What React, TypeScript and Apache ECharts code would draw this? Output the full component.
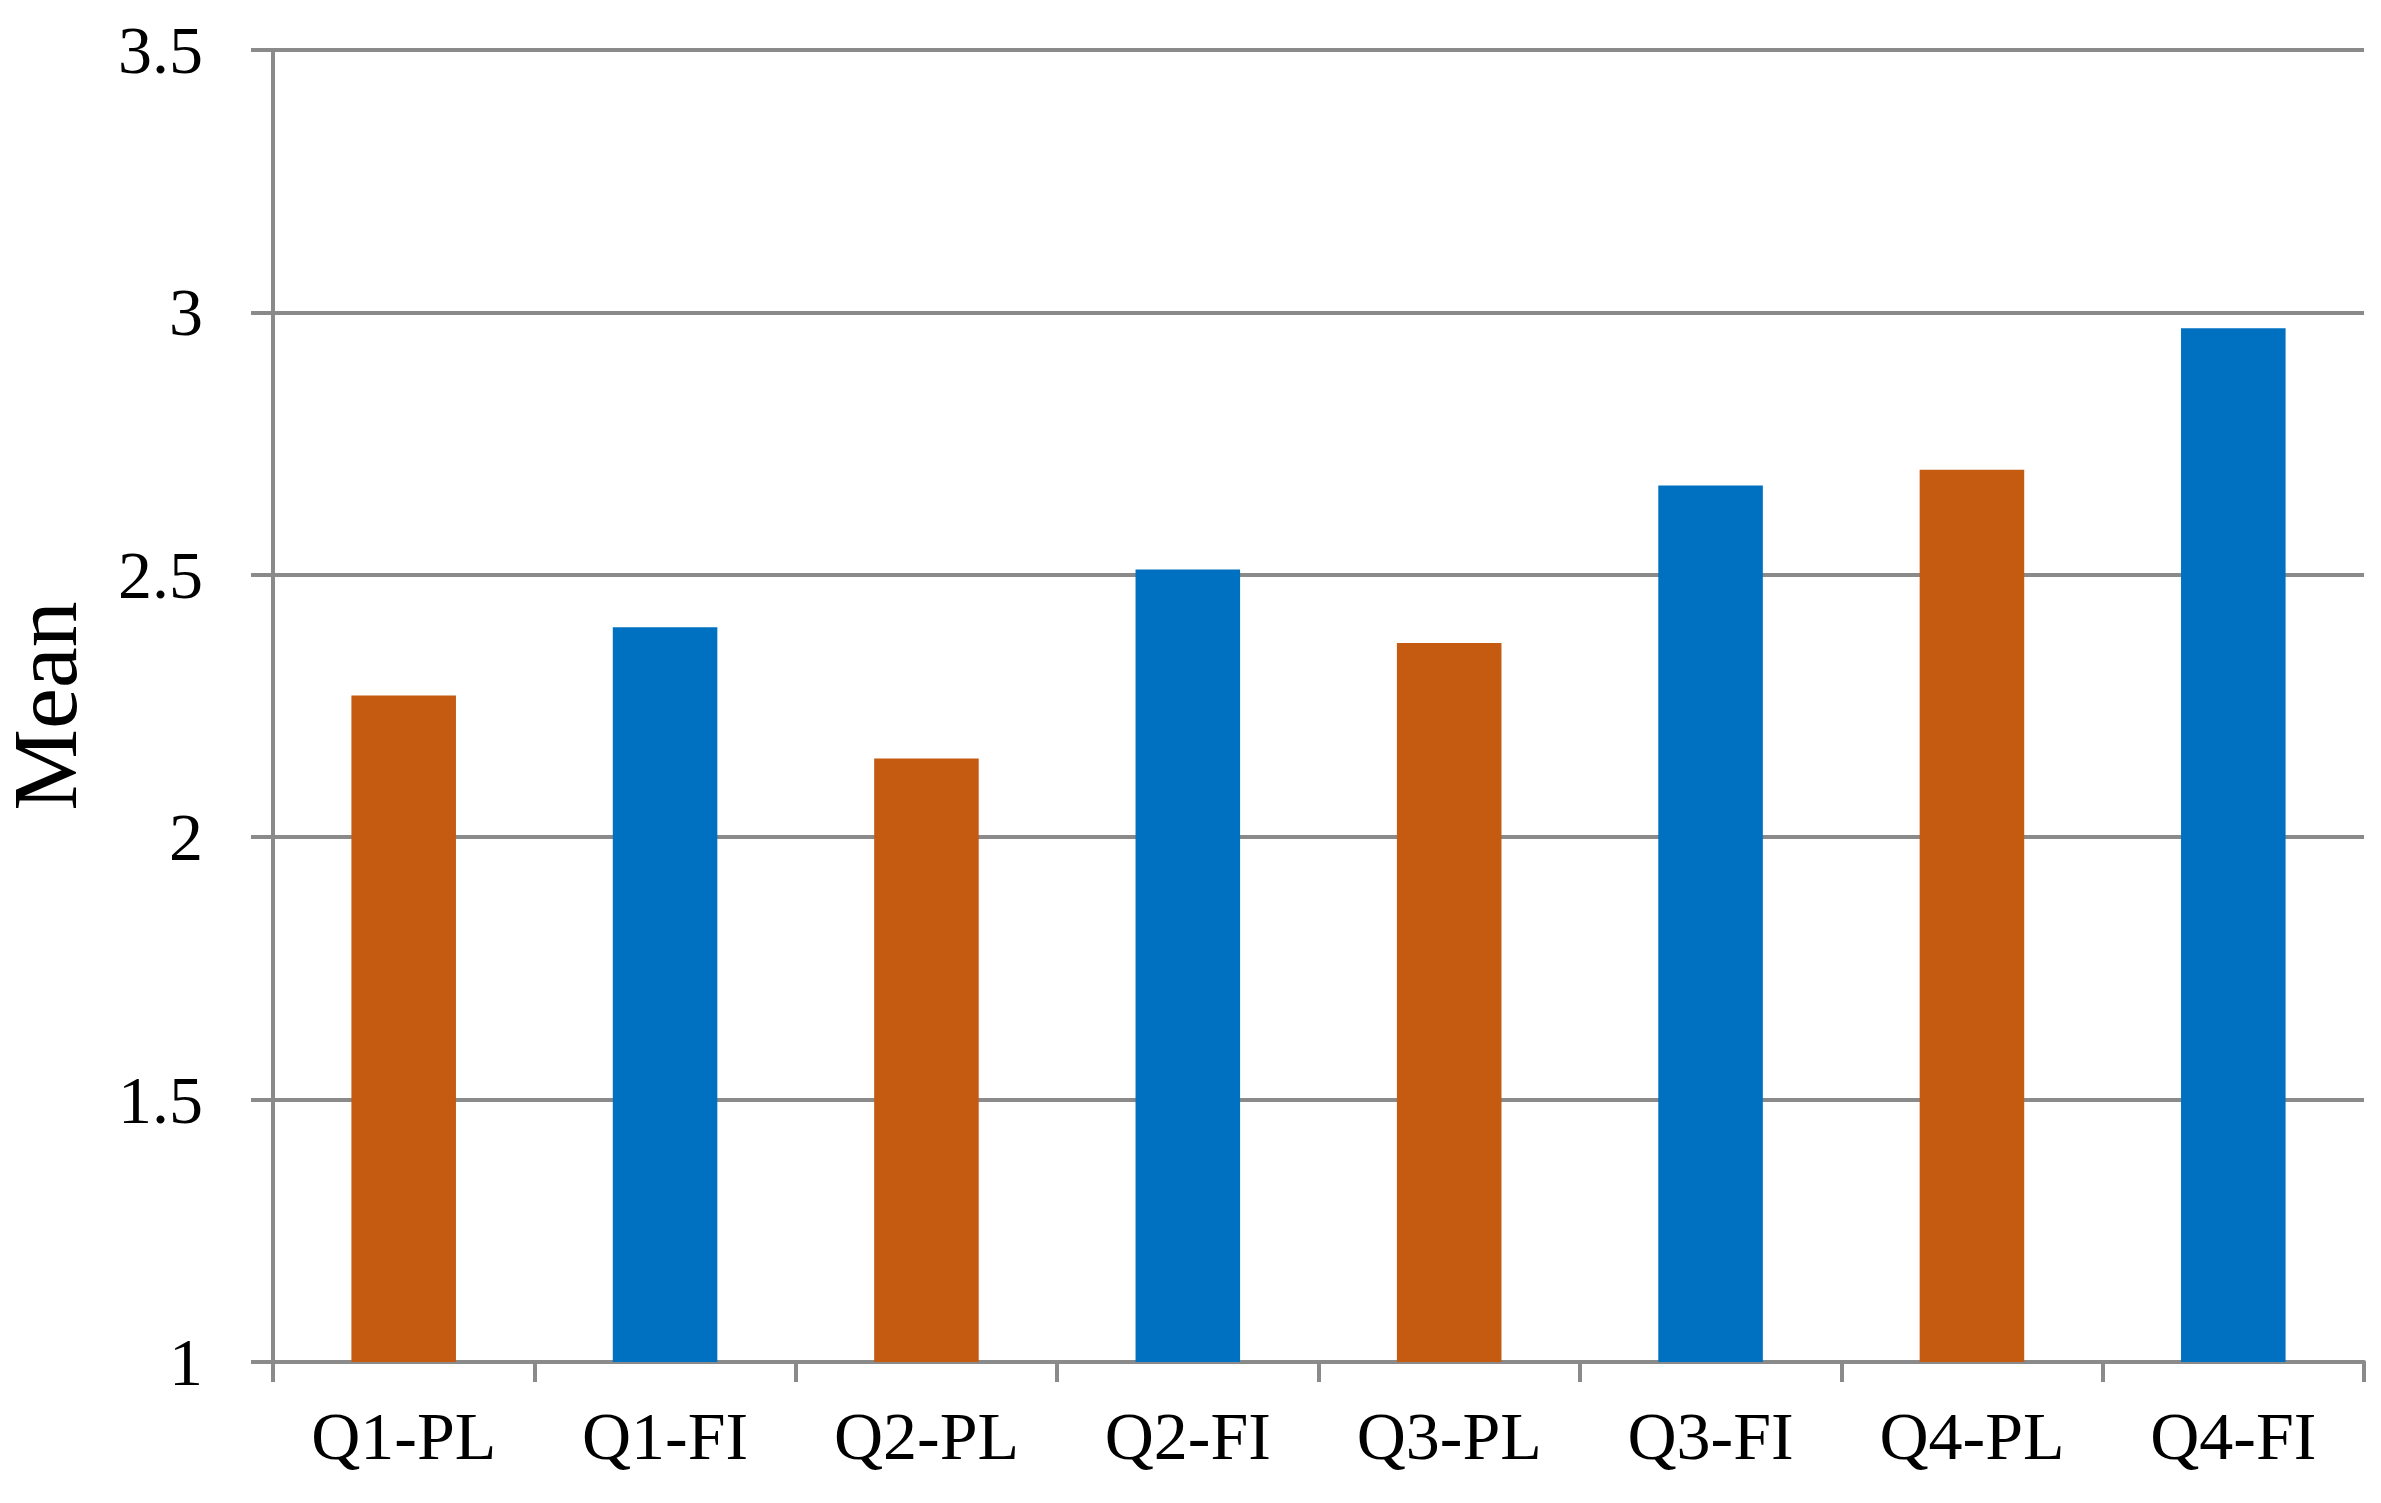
import React, { useEffect, useRef } from "react";
import * as echarts from "echarts";

const categories = ["Q1-PL", "Q1-FI", "Q2-PL", "Q2-FI", "Q3-PL", "Q3-FI", "Q4-PL", "Q4-FI"];
const meanValues = [2.27, 2.40, 2.15, 2.51, 2.37, 2.67, 2.70, 2.97];
const barColors = ["#C55A11", "#0070C0", "#C55A11", "#0070C0", "#C55A11", "#0070C0", "#C55A11", "#0070C0"];
const yMin = 1;
const yMax = 3.5;
const yStep = 0.5;

const FONT = "'Liberation Serif', 'DejaVu Serif', serif";
const GRID_COLOR = "#8a8a8a";

export default function App() {
  const ref = useRef<HTMLDivElement>(null);
  useEffect(() => {
    if (!ref.current) return;
    const chart = echarts.init(ref.current, null, { renderer: "svg" });
    chart.setOption({
      animation: false,
      backgroundColor: "#ffffff",
      grid: { left: 273, right: 17, top: 50, bottom: 141, containLabel: false, outerBoundsMode: "none" },
      xAxis: {
        type: "category",
        data: categories,
        boundaryGap: true,
        axisLine: { show: true, lineStyle: { color: GRID_COLOR, width: 4 } },
        axisTick: { show: true, length: 20, lineStyle: { color: GRID_COLOR, width: 4 } },
        axisLabel: { color: "#000", fontFamily: FONT, fontSize: 68, margin: 40 },
        splitLine: { show: false },
      },
      yAxis: {
        type: "value",
        min: yMin,
        max: yMax,
        interval: yStep,
        name: "Mean",
        nameLocation: "middle",
        nameGap: 182,
        nameTextStyle: { color: "#000", fontFamily: FONT, fontSize: 92, lineHeight: 92 },
        axisLine: { show: true, lineStyle: { color: GRID_COLOR, width: 4 } },
        axisTick: { show: true, inside: false, length: 22, lineStyle: { color: GRID_COLOR, width: 4 } },
        axisLabel: { color: "#000", fontFamily: FONT, fontSize: 68, margin: 70 },
        splitLine: { show: true, lineStyle: { color: GRID_COLOR, width: 4 } },
      },
      series: [
        {
          type: "bar",
          barWidth: "40%",
          data: meanValues.map((v, i) => ({ value: v, itemStyle: { color: barColors[i] } })),
        },
      ],
    });
    return () => chart.dispose();
  }, []);
  return (
    <div
      ref={ref}
      style={{ position: "fixed", left: 0, top: 0, width: 2381, height: 1503, background: "#fff" }}
    />
  );
}
